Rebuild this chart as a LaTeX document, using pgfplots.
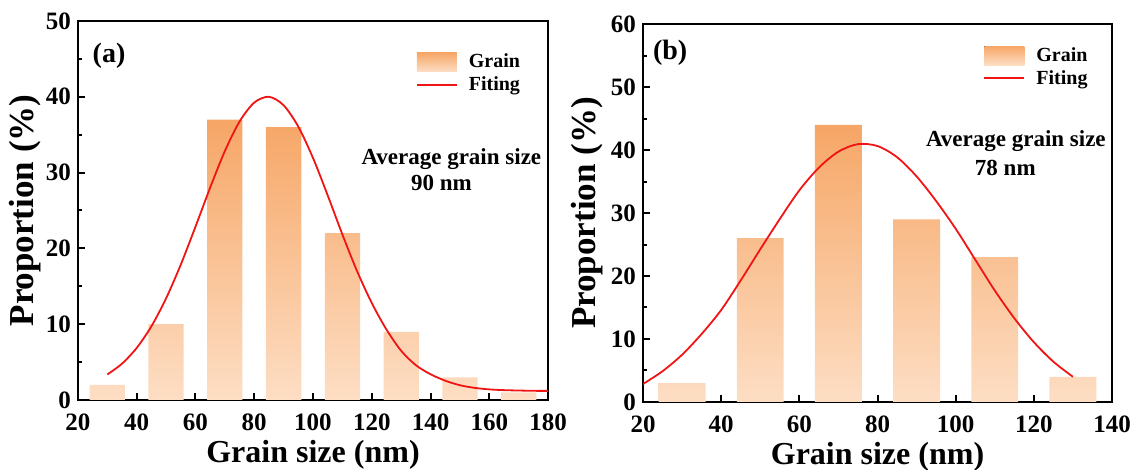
\documentclass[border=0pt]{standalone}
\usepackage{fontspec}
\setmainfont{Liberation Serif}
\usepackage{pgfplots}
\pgfplotsset{compat=1.18}

\definecolor{bartop}{RGB}{246,166,102}
\definecolor{barbot}{RGB}{253,222,196}
\definecolor{fitred}{RGB}{240,20,20}

\tikzset{annot/.style={font=\bfseries\fontsize{11.5}{13}\selectfont, anchor=base}}

\pgfplotsset{
  grainaxis/.style={
    scale only axis,
    axis line style={line width=1.3pt},
    tick style={line width=1pt, black},
    major tick length=3.5pt,
    minor tick length=2pt,
    tick align=inside,
    xtick pos=bottom, ytick pos=left,
    minor x tick num=1, minor y tick num=1,
    /pgf/number format/assume math mode=true,
    tick label style={font=\bfseries\fontsize{12.5}{14}\selectfont},
    xticklabel style={yshift=-3.3pt},
    xlabel={Grain size (nm)},
    ylabel={Proportion (\%)},
    every axis x label/.style={at={(axis description cs:0.5,-0.145)}, anchor=center,
      font=\bfseries\fontsize{16}{18}\selectfont},
    legend cell align=left,
    legend style={draw=none, fill=none, font=\bfseries\fontsize{10}{12}\selectfont,
      anchor=north west, inner sep=0pt, row sep=-1.75pt, column sep=3pt,
      nodes={inner sep=2.5pt}},
  },
  gradbar/.style={
    ybar, bar width=12, draw=none, top color=bartop, bottom color=barbot,
    area legend,
    legend image code/.code={
      \fill[top color=bartop, bottom color=barbot] (0pt,-4.75pt) rectangle (20pt,4.75pt);
    },
  },
  fitline/.style={
    fitred, line width=0.9pt, smooth, no marks,
    legend image code/.code={
      \draw[fitred, line width=1pt] (0pt,0.25pt) -- (20pt,0.25pt);
    },
  },
}

\begin{document}
\begin{tikzpicture}
% panel (a)
\begin{axis}[grainaxis,
  width=235pt, height=189.5pt,
  xmin=20, xmax=180, ymin=0, ymax=50,
  xtick={20,40,...,180}, ytick={0,10,...,50},
  every axis y label/.style={at={(axis description cs:-0.113,0.5)}, rotate=90,
    anchor=center, font=\bfseries\fontsize{17.5}{20}\selectfont},
  legend style={at={(axis description cs:0.718,0.928)}},
]
\addplot[gradbar] coordinates {
  (30,2) (50,10) (70,37) (90,36) (110,22) (130,9) (150,3) (170,1)
};
\addlegendentry{Grain}
\addplot[fitline] coordinates {
  (30,3.37) (35,4.80) (40,6.88) (45,9.73) (50,13.42) (55,17.87) (60,22.87)
  (65,28.03) (70,32.84) (75,36.74) (80,39.24) (85,40.0) (90,38.88) (95,36.06)
  (100,31.93) (105,27.0) (110,21.84) (115,17.0) (120,12.8) (125,9.3) (130,6.5)
  (135,4.6) (140,3.4) (145,2.55) (150,1.95) (155,1.6) (160,1.4) (165,1.3)
  (170,1.25) (175,1.21) (180,1.2)
};
\addlegendentry{Fiting}
\node[font=\bfseries\fontsize{14}{16}\selectfont] at (rel axis cs:0.066,0.907) {(a)};
\node[annot] at (axis cs:147.1,31.1) {Average grain size};
\node[annot] at (axis cs:143.7,27.7) {90 nm};
\end{axis}

% panel (b)
\begin{axis}[grainaxis, xshift=282.5pt, yshift=-1pt,
  width=234.5pt, height=189pt,
  xmin=20, xmax=140, ymin=0, ymax=60,
  xtick={20,40,...,140}, ytick={0,10,...,60},
  every axis y label/.style={at={(axis description cs:-0.119,0.5)}, rotate=90,
    anchor=center, font=\bfseries\fontsize{17.5}{20}\selectfont},
  legend style={at={(axis description cs:0.725,0.953)}},
]
\addplot[gradbar] coordinates {
  (30,3) (50,26) (70,44) (90,29) (110,23) (130,4)
};
\addlegendentry{Grain}
\addplot[fitline] coordinates {
  (20,2.85) (25,4.89) (30,7.5) (35,10.8) (40,14.6) (45,19.3) (50,24.24)
  (55,29.05) (60,33.6) (65,37.2) (70,39.74) (75,40.93) (80,40.63) (85,38.86)
  (90,35.81) (95,31.9) (100,27.5) (105,22.6) (110,17.7) (115,13.3) (120,9.5)
  (125,6.4) (130,4.0)
};
\addlegendentry{Fiting}
\node[font=\bfseries\fontsize{14}{16}\selectfont] at (rel axis cs:0.058,0.923) {(b)};
\node[annot] at (axis cs:115.4,40.5) {Average grain size};
\node[annot] at (axis cs:112.7,36.0) {78 nm};
\end{axis}
\pgfresetboundingbox
\path (-39pt,-35pt) rectangle (528.5pt,200pt);
\end{tikzpicture}
\end{document}
